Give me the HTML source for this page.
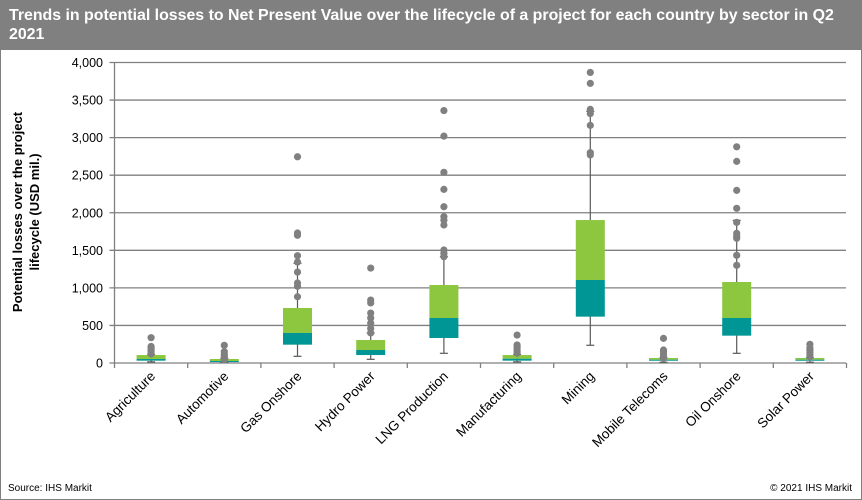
<!DOCTYPE html>
<html><head><meta charset="utf-8"><style>
body{margin:0;width:862px;height:500px;overflow:hidden;background:#fff;font-family:"Liberation Sans",Arial,sans-serif}
#wrap{position:absolute;left:0;top:0;width:860px;height:498px;border:1px solid #808080}
#title{position:absolute;left:0;top:0;width:860px;height:49px;background:#808080;color:#fff;font-weight:bold;font-size:15.9px;line-height:19px;padding:5px 8px 0 8px;box-sizing:border-box;white-space:nowrap;overflow:hidden}
</style></head><body>
<div id="wrap">
<div id="title">Trends in potential losses to Net Present Value over the lifecycle of a project for each country by sector in Q2<br>2021</div>
<svg id="chart" width="862" height="500" style="position:absolute;left:-1px;top:-1px">
<text x="8" y="491" font-size="10" fill="#000">Source:  IHS Markit</text>
<text x="852" y="491" font-size="10" fill="#000" text-anchor="end">© 2021  IHS Markit</text>
<text transform="translate(22,212) rotate(-90)" font-size="13" font-weight="bold" text-anchor="middle"><tspan x="0" dy="0">Potential losses over the project</tspan><tspan x="0" dy="17">lifecycle (USD mil.)</tspan></text>
</svg>
</div>
<script>
const categories=["Agriculture","Automotive","Gas Onshore","Hydro Power","LNG Production","Manufacturing","Mining","Mobile Telecoms","Oil Onshore","Solar Power"];
const whiskerLow=[15,8,89,49,129,15,236,10,129,10];
const q1=[31,12,244,106,333,31,617,30,364,30];
const median=[53,27,400,173,599,57,1105,44,599,44];
const q3=[106,53,732,306,1038,106,1903,67,1078,67];
const whiskerHigh=[110,60,1327,400,1415,110,3350,70,1899,70];
const outliers=[
[337,220,200,180,160,140,120],
[235,150,120,100,80,60,40],
[2745,1730,1700,1428,1344,1210,1065,1020,882],
[1264,838,800,665,600,530,460,400],
[3360,3020,2538,2311,2080,1947,1900,1837,1504,1460,1415],
[372,240,210,180,150,130],
[3868,3722,3376,3320,3163,2800,2770],
[328,173,150,120,90,62],
[2878,2684,2298,2059,1872,1726,1690,1660,1433,1300],
[249,200,170,140,110,80]];
const yTicks=[0,500,1000,1500,2000,2500,3000,3500,4000];
const NS="http://www.w3.org/2000/svg",svg=document.getElementById('chart');
const X0=114.5,CW=73.2,Y0=363,K=300.5/4000;
const y=v=>Y0-v*K, xc=i=>X0+CW*(i+0.5);
function mk(t,a){const e=document.createElementNS(NS,t);for(const k in a)e.setAttribute(k,a[k]);svg.appendChild(e);return e;}
yTicks.forEach(t=>{
 const l=mk('line',{x1:X0-5,x2:846,y1:y(t),y2:y(t),stroke:'#808080','stroke-width':1.3});
 
 
 const tx=mk('text',{x:103,y:y(t)+4.5,'font-size':12.5,'text-anchor':'end',fill:'#000'});
 tx.textContent=t.toLocaleString('en-US');
 
 
});
const ax=mk('line',{x1:X0,x2:X0,y1:y(4000),y2:Y0,stroke:'#808080','stroke-width':1.3});


for(let i=0;i<=categories.length;i++){
 const tk=mk('line',{x1:X0+CW*i,x2:X0+CW*i,y1:Y0,y2:Y0+5,stroke:'#808080','stroke-width':1.3});
 
 
}
categories.forEach((c,i)=>{
 const x=xc(i),w=29;
 const wl=mk('line',{x1:x,x2:x,y1:y(whiskerHigh[i]),y2:y(whiskerLow[i]),stroke:'#595959','stroke-width':1.2});
 
 
 [whiskerHigh[i],whiskerLow[i]].forEach(v=>{
  const cp=mk('line',{x1:x-4,x2:x+4,y1:y(v),y2:y(v),stroke:'#595959','stroke-width':1.2});
  
  
 });
 const up=mk('rect',{x:x-w/2,y:y(q3[i]),width:w,height:Math.max(0,y(median[i])-y(q3[i])),fill:'#8dc63f'});
 
 
 const lo=mk('rect',{x:x-w/2,y:y(median[i]),width:w,height:Math.max(0,y(q1[i])-y(median[i])),fill:'#009696'});
 
 
 outliers[i].forEach(v=>{
  const d=mk('circle',{cx:x,cy:y(v),r:3.6,fill:'#808080'});
  
  
 });
 const t=mk('text',{'font-size':13.5,'text-anchor':'end',fill:'#000',transform:`translate(${x+5},${Y0+14}) rotate(-45)`});
 t.textContent=c;
 
 
});
</script>
</body></html>
